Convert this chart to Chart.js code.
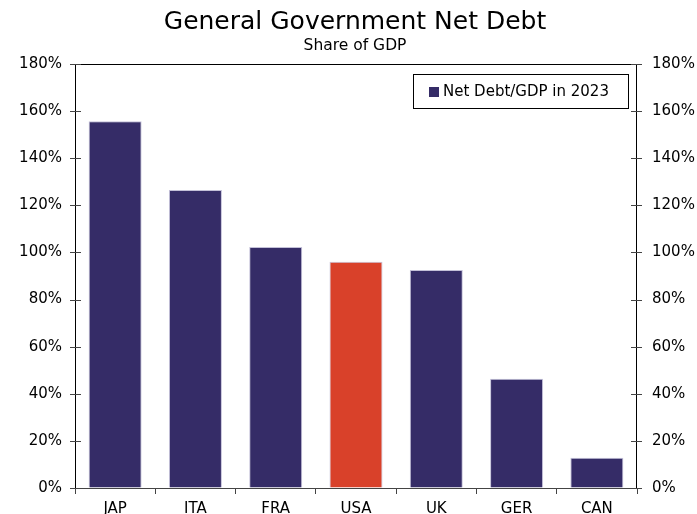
<!DOCTYPE html>
<html><head><meta charset="utf-8">
<script src="https://cdn.jsdelivr.net/npm/chart.js@4/dist/chart.umd.min.js"></script>
<style>html,body{margin:0;padding:0;background:#fff}#wrap{width:697px;height:514px}</style>
</head><body><div id="wrap"><canvas id="c" width="697" height="514"></canvas></div>
<script>
const categories = ["JAP","ITA","FRA","USA","UK","GER","CAN"];
const netDebt = [155.7, 126.5, 102.3, 96.0, 92.5, 46.4, 12.8];
const seriesLabel = "Net Debt/GDP in 2023";
const barColors = ["#352c67","#352c67","#352c67","#d9412a","#352c67","#352c67","#352c67"];
const yTicks = [0,20,40,60,80,100,120,140,160,180];
const titleText = "General Government Net Debt";
const subtitleText = "Share of GDP";
const FONT = "'DejaVu Sans', Verdana, sans-serif";

const deco = {
  id: 'deco',
  afterDraw(chart) {
    const ctx = chart.ctx, a = chart.chartArea;
    const y = chart.scales.y;
    ctx.save();
    ctx.fillStyle = '#000';
    ctx.textAlign = 'center'; ctx.textBaseline = 'middle';
    ctx.font = "25px " + FONT;
    ctx.fillText(titleText, 355, 22);
    ctx.font = "15.5px " + FONT;
    ctx.fillText(subtitleText, 355, 46);
    ctx.strokeStyle = '#000'; ctx.lineWidth = 1;
    ctx.beginPath();
    ctx.moveTo(a.left + 0.5, a.bottom); ctx.lineTo(a.left + 0.5, a.top + 0.5);
    ctx.lineTo(a.right - 0.5, a.top + 0.5); ctx.lineTo(a.right - 0.5, a.bottom);
    ctx.stroke();
    ctx.strokeStyle = '#444';
    ctx.beginPath();
    ctx.moveTo(a.left, a.bottom + 0.5); ctx.lineTo(a.right, a.bottom + 0.5);
    ctx.stroke();
    ctx.beginPath();
    yTicks.forEach(v => {
      const py = Math.round(y.getPixelForValue(v)) + 0.5;
      ctx.moveTo(a.left - 5, py); ctx.lineTo(a.left + 6, py);
      ctx.moveTo(a.right - 6, py); ctx.lineTo(a.right + 5, py);
    });
    ctx.stroke();
    const lx = 413, ly = 74, lw = 215, lh = 34;
    ctx.fillStyle = '#fff';
    ctx.fillRect(lx, ly, lw, lh);
    ctx.strokeStyle = '#000';
    ctx.strokeRect(lx + 0.5, ly + 0.5, lw, lh);
    ctx.fillStyle = chart.data.datasets[0].backgroundColor[0];
    ctx.fillRect(lx + 16, ly + 13, 10, 10);
    ctx.fillStyle = '#000';
    ctx.textAlign = 'left'; ctx.textBaseline = 'middle';
    ctx.font = "15px " + FONT;
    ctx.fillText(chart.data.datasets[0].label, lx + 30, ly + 18);
    ctx.restore();
  }
};

new Chart(document.getElementById('c'), {
  type: 'bar',
  data: {
    labels: categories,
    datasets: [{
      label: seriesLabel,
      data: netDebt,
      backgroundColor: barColors,
      borderColor: "rgba(170,165,200,0.7)",
      borderWidth: 1,
      categoryPercentage: 0.66,
      barPercentage: 1.0
    }]
  },
  options: {
    responsive: false,
    animation: false,
    devicePixelRatio: 1,
    layout: { padding: { top: 64, left: 0, right: 0, bottom: 0 } },
    plugins: { legend: { display: false }, title: { display: false }, tooltip: { enabled: false } },
    scales: {
      x: {
        offset: true,
        grid: { offset: true, drawOnChartArea: false, drawTicks: true, tickLength: 6, color: '#444' },
        border: { display: false },
        ticks: { color: '#000', font: { family: FONT, size: 15 }, padding: 6 },
        afterFit(s) { s.height = 26; }
      },
      y: {
        position: 'left',
        min: 0, max: 180,
        afterBuildTicks(s) { s.ticks = yTicks.map(v => ({ value: v })); },
        grid: { drawOnChartArea: false, drawTicks: false },
        border: { display: false },
        ticks: { color: '#000', font: { family: FONT, size: 15 }, padding: 13, callback: v => v + '%' },
        afterFit(s) { s.width = 75; }
      },
      y2: {
        position: 'right',
        min: 0, max: 180,
        afterBuildTicks(s) { s.ticks = yTicks.map(v => ({ value: v })); },
        grid: { drawOnChartArea: false, drawTicks: false },
        border: { display: false },
        ticks: { color: '#000', font: { family: FONT, size: 15 }, padding: 15, callback: v => v + '%' },
        afterFit(s) { s.width = 60; }
      }
    }
  },
  plugins: [deco]
});
</script></body></html>
